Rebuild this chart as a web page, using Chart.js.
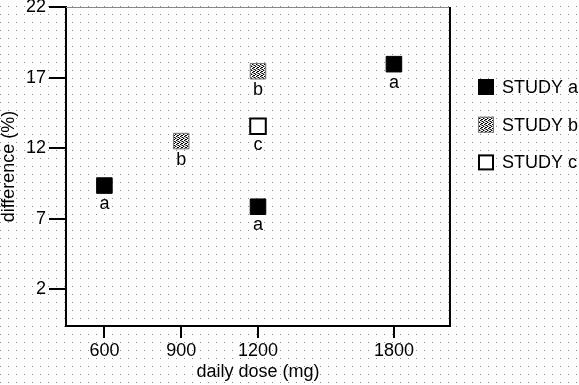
<!DOCTYPE html>
<html>
<head>
<meta charset="utf-8">
<script src="https://cdn.jsdelivr.net/npm/chart.js@4"></script>
<style>
  html, body { margin: 0; padding: 0; background: #fff; }
  #wrap { width: 579px; height: 385px; }
</style>
</head>
<body>
<div id="wrap"><canvas id="doseChart" width="579" height="385"></canvas></div>
<script>
// data
const studyNames = ['STUDY a', 'STUDY b', 'STUDY c'];
const studyLetters = ['a', 'b', 'c'];
const studyADose = [600, 1200, 1800];
const studyADiff = [9.35, 7.85, 17.95];
const studyBDose = [900, 1200];
const studyBDiff = [12.5, 17.45];
const studyCDose = [1200];
const studyCDiff = [13.55];
const yTicks = [2, 7, 12, 17, 22];
const xTickDoses = [600, 900, 1200, 1800];
// the dose axis is not evenly spaced in mg: slot of each tick on the axis
const xTickSlots = [0, 1, 2, 3.77];

function slotOf(dose) {
  for (let i = 0; i < xTickDoses.length - 1; i++) {
    if (dose <= xTickDoses[i + 1]) {
      const t = (dose - xTickDoses[i]) / (xTickDoses[i + 1] - xTickDoses[i]);
      return xTickSlots[i] + t * (xTickSlots[i + 1] - xTickSlots[i]);
    }
  }
  return xTickSlots[xTickSlots.length - 1];
}
const toPoints = (doses, diffs) => doses.map((d, i) => ({ x: slotOf(d), y: diffs[i] }));

// stipple fill for study b
function stipple() {
  const c = document.createElement('canvas');
  c.width = 4; c.height = 4;
  const g = c.getContext('2d');
  g.fillStyle = '#fff';
  g.fillRect(0, 0, 4, 4);
  g.fillStyle = '#000';
  [[0, 0], [2, 1], [1, 3], [3, 2], [2, 3]].forEach(p => g.fillRect(p[0], p[1], 1, 1));
  g.fillStyle = '#888';
  [[1, 0], [3, 1], [0, 2], [1, 1]].forEach(p => g.fillRect(p[0], p[1], 1, 1));
  return g.createPattern(c, 'repeat');
}

Chart.defaults.font.family = '"Liberation Sans", Arial, Helvetica, sans-serif';
Chart.defaults.font.size = 18;
Chart.defaults.color = '#000';

const FONT = '18px "Liberation Sans", Arial, Helvetica, sans-serif';

// dotted paper background, plot frame, letters under points and legend
const decor = {
  id: 'decor',
  beforeDraw(chart) {
    const c = chart.ctx;
    c.save();
    c.fillStyle = '#fff';
    c.fillRect(0, 0, chart.width, chart.height);
    c.fillStyle = '#8a8a8a';
    for (let x = 0; x < chart.width; x += 8) {
      for (let y = 6; y < chart.height; y += 8) c.fillRect(x, y, 1, 1);
    }
    c.restore();
  },
  afterDatasetsDraw(chart) {
    const c = chart.ctx;
    const a = chart.chartArea;
    c.save();
    c.strokeStyle = '#888';
    c.lineWidth = 1;
    c.beginPath();
    c.moveTo(a.left, a.top + 0.5);
    c.lineTo(a.right, a.top + 0.5);
    c.stroke();
    c.strokeStyle = '#000';
    c.lineWidth = 2;
    c.beginPath();
    c.moveTo(a.right, a.top);
    c.lineTo(a.right, a.bottom);
    c.stroke();

    c.font = FONT;
    c.fillStyle = '#000';
    c.textAlign = 'center';
    c.textBaseline = 'alphabetic';
    chart.data.datasets.forEach((ds, i) => {
      chart.getDatasetMeta(i).data.forEach(pt => {
        c.fillText(studyLetters[i], pt.x, pt.y + 23.5);
      });
    });

    // legend
    c.textAlign = 'left';
    c.textBaseline = 'middle';
    chart.data.datasets.forEach((ds, i) => {
      const cy = 87 + i * 37.7;
      const bx = a.right + 28;
      c.fillStyle = ds.backgroundColor;
      c.fillRect(bx, cy - 8, 16, 16);
      c.strokeStyle = ds.borderColor;
      c.lineWidth = ds.borderWidth;
      c.strokeRect(bx + ds.borderWidth / 2, cy - 8 + ds.borderWidth / 2, 16 - ds.borderWidth, 16 - ds.borderWidth);
      c.fillStyle = '#000';
      c.fillText(ds.label, bx + 24, cy + 1);
    });
    c.restore();
  }
};

const ctx = document.getElementById('doseChart').getContext('2d');
const doseChart = new Chart(ctx, {
  type: 'scatter',
  data: {
    datasets: [{
      label: studyNames[0],
      data: toPoints(studyADose, studyADiff),
      backgroundColor: '#000',
      borderColor: '#000',
      borderWidth: 1
    }, {
      label: studyNames[1],
      data: toPoints(studyBDose, studyBDiff),
      backgroundColor: stipple(),
      borderColor: '#777',
      borderWidth: 1
    }, {
      label: studyNames[2],
      data: toPoints(studyCDose, studyCDiff),
      backgroundColor: '#fff',
      borderColor: '#000',
      borderWidth: 2
    }]
  },
  options: {
    responsive: false,
    animation: false,
    layout: { autoPadding: false, padding: { top: 7, right: 129, left: 0, bottom: 0 } },
    elements: {
      point: { pointStyle: 'rect', radius: 11, hoverRadius: 11 }
    },
    scales: {
      x: {
        type: 'linear',
        min: -0.5,
        max: 4.5,
        afterBuildTicks: axis => { axis.ticks = xTickSlots.map(v => ({ value: v })); },
        afterFit: axis => { axis.height = 59; axis.paddingLeft = 0; axis.paddingRight = 0; },
        ticks: {
          color: '#000',
          padding: 2,
          maxRotation: 0,
          callback: (v) => {
            const i = xTickSlots.indexOf(v);
            return i >= 0 ? String(xTickDoses[i]) : '';
          }
        },
        grid: { drawOnChartArea: false, drawTicks: true, tickLength: 12, color: '#000', lineWidth: 2 },
        border: { display: true, color: '#000', width: 2 },
        title: {
          display: true,
          text: 'daily dose (mg)',
          color: '#000',
          font: { size: 18, lineHeight: 1.2 },
          padding: { top: 0, bottom: 2 }
        }
      },
      y: {
        min: -0.6,
        max: 22,
        afterBuildTicks: axis => { axis.ticks = yTicks.map(v => ({ value: v })); },
        afterFit: axis => { axis.width = 66; axis.paddingTop = 0; axis.paddingBottom = 0; },
        ticks: { color: '#000', padding: 3 },
        grid: { drawOnChartArea: false, drawTicks: true, tickLength: 17, color: '#000', lineWidth: 2 },
        border: { display: true, color: '#000', width: 2 },
        title: {
          display: true,
          text: 'difference (%)',
          color: '#000',
          font: { size: 18, lineHeight: 1.0 },
          padding: { top: 0, bottom: 0 }
        }
      }
    },
    plugins: {
      legend: { display: false },
      tooltip: { enabled: false }
    }
  },
  plugins: [decor]
});
</script>
</body>
</html>
